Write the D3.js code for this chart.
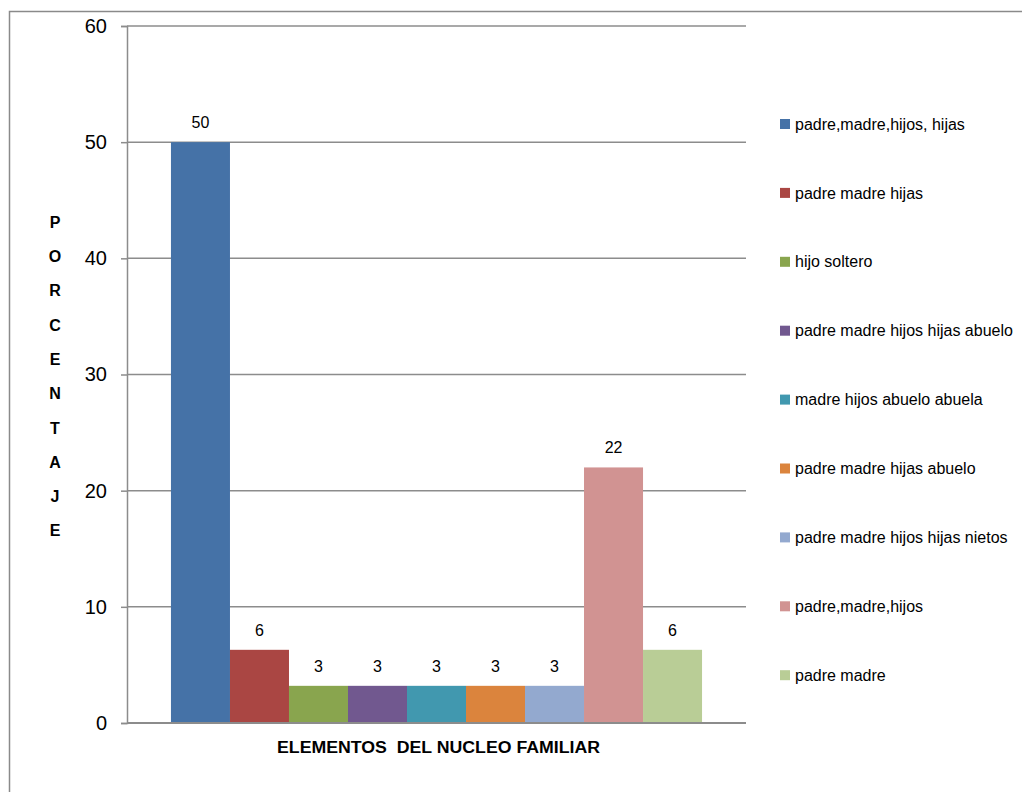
<!DOCTYPE html>
<html>
<head>
<meta charset="utf-8">
<script src="https://cdn.jsdelivr.net/npm/d3@7"></script>
<style>
  html, body { margin: 0; padding: 0; background: #fff; }
  svg { display: block; }
  text { font-family: "Liberation Sans", Arial, sans-serif; fill: #000; }
</style>
</head>
<body>
<svg id="chart" width="1022" height="792"></svg>
<script>
// ---- data ----
const seriesNames = [
  "padre,madre,hijos, hijas",
  "padre madre hijas",
  "hijo soltero",
  "padre madre hijos hijas abuelo",
  "madre hijos abuelo abuela",
  "padre madre hijas abuelo",
  "padre madre hijos hijas nietos",
  "padre,madre,hijos",
  "padre madre"
];
const seriesValues = [50, 6.3, 3.2, 3.2, 3.2, 3.2, 3.2, 22, 6.3];
const seriesColors = ["#4572A7", "#AA4643", "#89A54E", "#71588F", "#4198AF",
                      "#DB843D", "#93A9CF", "#D19392", "#B9CD96"];
const yTicks = [0, 10, 20, 30, 40, 50, 60];
const xTitle = "ELEMENTOS  DEL NUCLEO FAMILIAR";
const yTitle = "PORCENTAJE";

// ---- layout ----
const svg = d3.select("#chart");
const plot = { left: 127, top: 26, right: 746, bottom: 723 };
const W = plot.right - plot.left, H = plot.bottom - plot.top;

// outer chart border (extends past right/bottom edge like the reference)
svg.append("rect")
  .attr("x", 9.5).attr("y", 11.5).attr("width", 1030).attr("height", 800)
  .attr("fill", "none").attr("stroke", "#8a8a8a").attr("stroke-width", 1.5);

const g = svg.append("g").attr("transform", `translate(${plot.left},${plot.top})`);

const y = d3.scaleLinear().domain([0, 60]).range([H, 0]);
const x = d3.scaleBand().domain(seriesNames).range([0, W]).paddingInner(0).paddingOuter(0.745);

// gridlines
g.append("g").selectAll("line").data(yTicks.filter(t => t > 0)).join("line")
  .attr("x1", 0).attr("x2", W)
  .attr("y1", d => y(d)).attr("y2", d => y(d))
  .attr("stroke", "#8c8c8c").attr("stroke-width", 1.5);

// y axis
const yAxis = d3.axisLeft(y).tickValues(yTicks).tickSize(6).tickPadding(14).tickFormat(d3.format("d"));
const ya = g.append("g").call(yAxis);
ya.select(".domain").attr("stroke", "#8c8c8c").attr("stroke-width", 1.5);
ya.selectAll(".tick line").attr("stroke", "#8c8c8c").attr("stroke-width", 1.5);
ya.selectAll(".tick text").attr("font-size", 20).attr("font-family", "Liberation Sans, Arial, sans-serif").attr("fill", "#000");

// bars
g.append("g").selectAll("rect").data(seriesValues).join("rect")
  .attr("x", (d, i) => x(seriesNames[i]))
  .attr("width", x.bandwidth())
  .attr("y", d => y(d))
  .attr("height", d => H - y(d))
  .attr("fill", (d, i) => seriesColors[i]);

// x axis line at 0
g.append("line").attr("x1", 0).attr("x2", W).attr("y1", H).attr("y2", H)
  .attr("stroke", "#8c8c8c").attr("stroke-width", 2);

// data labels
const fmt = d3.format(".0f");
g.append("g").selectAll("text").data(seriesValues).join("text")
  .attr("x", (d, i) => x(seriesNames[i]) + x.bandwidth() / 2)
  .attr("y", d => y(d) - 14)
  .attr("text-anchor", "middle")
  .attr("font-size", 16)
  .text(d => fmt(d));

// x axis title
svg.append("text")
  .attr("x", plot.left + W / 2 + 2).attr("y", 753)
  .attr("text-anchor", "middle")
  .attr("font-size", 16).attr("font-weight", "bold")
  .attr("textLength", 323).attr("lengthAdjust", "spacingAndGlyphs")
  .attr("xml:space", "preserve")
  .style("white-space", "pre")
  .text(xTitle);

// y axis title (stacked letters)
svg.append("g").selectAll("text").data(yTitle.split("")).join("text")
  .attr("x", 55).attr("y", (d, i) => 222 + i * 34.3)
  .attr("dy", "0.36em")
  .attr("text-anchor", "middle")
  .attr("font-size", 16).attr("font-weight", "bold")
  .text(d => d);

// legend
const leg = svg.append("g").attr("transform", "translate(780,124)");
const items = leg.selectAll("g").data(seriesNames).join("g")
  .attr("transform", (d, i) => `translate(0,${i * 68.9})`);
items.append("rect").attr("x", 0).attr("y", -5).attr("width", 10).attr("height", 10)
  .attr("fill", (d, i) => seriesColors[i]);
items.append("text").attr("x", 15).attr("y", 0).attr("dy", "0.35em")
  .attr("font-size", 16).attr("fill", "#1a1a1a")
  .text(d => d);
</script>
</body>
</html>
